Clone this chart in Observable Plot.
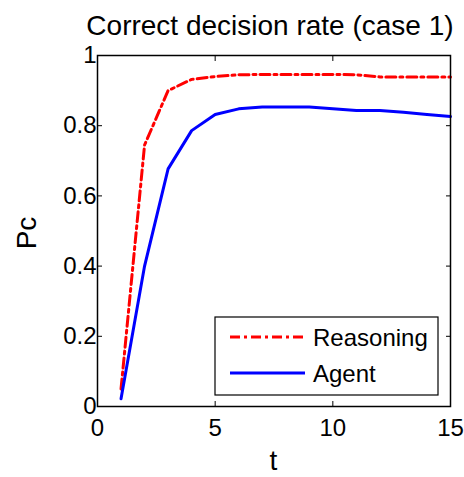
<!DOCTYPE html>
<html>
<head>
<meta charset="utf-8">
<script src="https://cdn.jsdelivr.net/npm/d3@7"></script>
<script src="https://cdn.jsdelivr.net/npm/@observablehq/plot@0.6"></script>
<style>
  body { margin: 0; background: #fff; }
  svg { font-family: "Liberation Sans", Arial, sans-serif; }
</style>
</head>
<body>
<div id="chart"></div>
<script>
const t = [1,2,3,4,5,6,7,8,9,10,11,12,13,14,15];
const reasoning = [0.05,0.745,0.90,0.932,0.940,0.945,0.946,0.946,0.946,0.946,0.945,0.939,0.939,0.939,0.939];
const agent = [0.022,0.40,0.677,0.786,0.832,0.848,0.853,0.853,0.853,0.848,0.843,0.843,0.838,0.832,0.826];
const seriesNames = ["Reasoning", "Agent"];
const xTicks = [0,5,10,15];
const yTicks = [0,0.2,0.4,0.6,0.8,1];
const titleText = "Correct decision rate (case 1)";

const dataR = t.map((d,i) => ({t: d, v: reasoning[i]}));
const dataA = t.map((d,i) => ({t: d, v: agent[i]}));

const W = 464, H = 477;
const mL = 97, mR = 14, mT = 55, mB = 71;
const FONT = '"Liberation Sans", Arial, sans-serif';

const plot = Plot.plot({
  width: W, height: H,
  marginLeft: mL, marginRight: mR, marginTop: mT, marginBottom: mB,
  style: {fontFamily: FONT, background: "#fff", color: "#000"},
  x: {domain: [0,15]},
  y: {domain: [0,1]},
  marks: [
    Plot.line(dataR, {x: "t", y: "v", stroke: "#ff0000", strokeWidth: 3, strokeDasharray: "10,4,3,4"}),
    Plot.line(dataA, {x: "t", y: "v", stroke: "#0000ff", strokeWidth: 3}),
    Plot.frame({stroke: "#000", strokeWidth: 1.5}),
    Plot.axisX({anchor: "bottom", ticks: xTicks, tickSize: -5, tickPadding: 17, fontSize: 24, label: null}),
    Plot.axisX({anchor: "top", ticks: xTicks, tickSize: -5, tickFormat: () => "", label: null}),
    Plot.axisY({anchor: "left", ticks: yTicks, tickSize: -5, tickPadding: 6, fontSize: 24, label: null, tickFormat: d => d === 0 || d === 1 ? String(d) : d3.format(".1f")(d)}),
    Plot.axisY({anchor: "right", ticks: yTicks, tickSize: -5, tickFormat: () => "", label: null})
  ]
});

const svg = d3.select(plot);
// title
svg.append("text").attr("x", 270).attr("y", 35)
  .attr("text-anchor", "middle")
  .attr("font-size", 28).attr("fill", "#000").text(titleText);
// axis labels
svg.append("text").attr("x", mL + (W - mL - mR)/2).attr("y", 470)
  .attr("text-anchor", "middle")
  .attr("font-size", 28).attr("fill", "#000").text("t");
svg.append("text").attr("transform", "translate(36,233) rotate(-90)")
  .attr("text-anchor", "middle")
  .attr("font-size", 28).attr("fill", "#000").text("Pc");
// legend
const lg = svg.append("g");
lg.append("rect").attr("x", 215).attr("y", 317).attr("width", 223).attr("height", 78)
  .attr("fill", "#fff").attr("stroke", "#000").attr("stroke-width", 1.2);
const styles = [{stroke: "#ff0000", dash: "10,4,3,4"}, {stroke: "#0000ff", dash: null}];
seriesNames.forEach((name, i) => {
  const ly = 337 + i * 36;
  lg.append("line").attr("x1", 230).attr("x2", 305).attr("y1", ly).attr("y2", ly)
    .attr("stroke", styles[i].stroke).attr("stroke-width", 3)
    .attr("stroke-dasharray", styles[i].dash);
  lg.append("text").attr("x", 313).attr("y", ly + 9).attr("text-anchor", "start")
    .attr("font-size", 24).attr("fill", "#000").text(name);
});

document.getElementById("chart").appendChild(plot);
</script>
</body>
</html>
